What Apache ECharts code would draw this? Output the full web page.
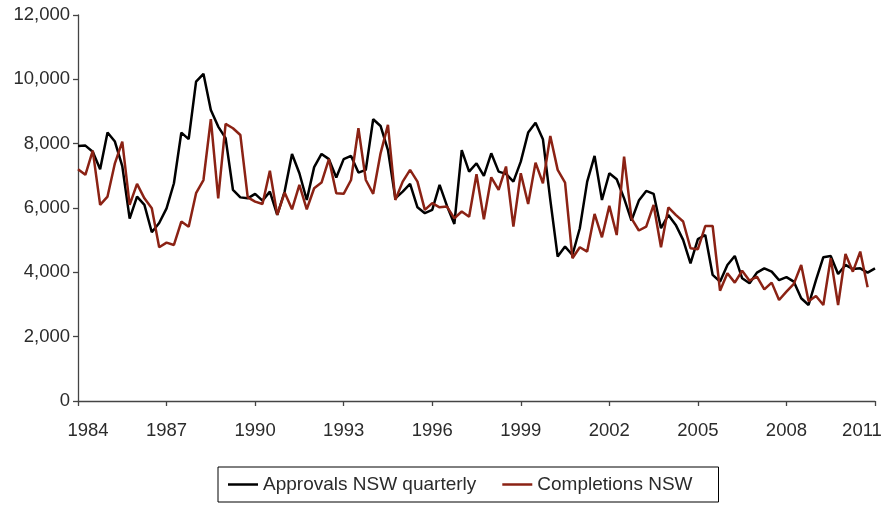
<!DOCTYPE html>
<html>
<head>
<meta charset="utf-8">
<style>
  html, body { margin: 0; padding: 0; background: #fff; }
  #chart { width: 891px; height: 514px; }
</style>
<script src="https://cdn.jsdelivr.net/npm/echarts@6/dist/echarts.min.js"></script>
</head>
<body>
<div id="chart"></div>
<script>
// quarterly series, first point is 1984 Q1
var startYear = 1984
var approvals = [
	7930, 7940, 7750, 7205, 8345, 8065, 7300, 5670, 6355, 6095,
	5245, 5535, 5990, 6770, 8345, 8140, 9930, 10170, 9050, 8530,
	8170, 6560, 6330, 6300, 6440, 6230, 6510, 5785, 6510, 7680,
	7080, 6250, 7270, 7680, 7520, 6950, 7520, 7620, 7100, 7185,
	8760, 8550, 7800, 6300, 6510, 6750, 6020, 5840, 5940, 6720,
	6065, 5505, 7800, 7130, 7390, 7000, 7700, 7130, 7060, 6820,
	7440, 8345, 8650, 8140, 6250, 4490, 4800, 4540, 5370, 6820,
	7620, 6250, 7080, 6895, 6300, 5610, 6230, 6530, 6440, 5370,
	5785, 5475, 5010, 4280, 5030, 5160, 3920, 3710, 4230, 4510,
	3815, 3660, 3990, 4125, 4020, 3760, 3850, 3710, 3195, 2985,
	3760, 4470, 4510, 3950, 4230, 4100, 4125, 3990, 4125
]
var completions = [
	7205, 7030, 7785, 6095, 6355, 7390, 8065, 6095, 6750, 6300,
	5990, 4780, 4925, 4850, 5580, 5420, 6460, 6870, 8760, 6300,
	8615, 8480, 8270, 6330, 6200, 6125, 7160, 5785, 6480, 5960,
	6720, 5960, 6615, 6790, 7520, 6460, 6440, 6870, 8480, 6870,
	6440, 7700, 8585, 6250, 6820, 7185, 6820, 5940, 6150, 6020,
	6045, 5680, 5890, 5730, 7050, 5650, 6955, 6560, 7290, 5420,
	7080, 6125, 7410, 6770, 8240, 7185, 6790, 4440, 4780, 4645,
	5815, 5090, 6065, 5160, 7600, 5680, 5300, 5420, 6095, 4780,
	6020, 5785, 5580, 4750, 4720, 5440, 5440, 3430, 3970, 3680,
	4050, 3740, 3865, 3470, 3680, 3140, 3400, 3640, 4230, 3100,
	3265, 2985, 4440, 2985, 4570, 4020, 4645, 3535
]
var yearTicks = [1984, 1987, 1990, 1993, 1996, 1999, 2002, 2005, 2008, 2011]
var seriesNames = ['Approvals NSW quarterly', 'Completions NSW']

function toPoints(arr) {
	return arr.map(function (v, i) { return [startYear + i / 4, v] })
}

var textColor = '#2b2b2b'
var axisColor = '#444'
var font = 'Liberation Sans'
var fs = 18.5

var myChart = echarts.init(document.getElementById('chart'))
var option = {
	animation: false,
	color: ['#000000', '#8b2214'],
	grid: { left: 78, right: 16, top: 15, bottom: 113 },
	xAxis: {
		type: 'value',
		min: yearTicks[0],
		max: yearTicks[yearTicks.length - 1],
		interval: 3,
		axisLine: { show: true, lineStyle: { color: axisColor, width: 1.3 } },
		axisTick: { show: true, length: 5, lineStyle: { color: axisColor, width: 1.3 } },
		splitLine: { show: false },
		axisLabel: {
			margin: 20,
			color: textColor,
			fontFamily: font,
			fontSize: fs,
			formatter: function (v) {
				if (v === yearTicks[0]) return '{first|' + v + '}'
				if (v === yearTicks[yearTicks.length - 1]) return '{last|' + v + '}'
				return String(v)
			},
			rich: {
				first: { padding: [0, 0, 0, 20], color: textColor, fontFamily: font, fontSize: fs },
				last: { padding: [0, 26, 0, 0], color: textColor, fontFamily: font, fontSize: fs }
			}
		}
	},
	yAxis: {
		type: 'value',
		min: 0,
		max: 12000,
		interval: 2000,
		axisLine: { show: true, lineStyle: { color: axisColor, width: 1.3 } },
		axisTick: { show: true, length: 5, lineStyle: { color: axisColor, width: 1.3 } },
		splitLine: { show: false },
		axisLabel: {
			margin: 8,
			color: textColor,
			fontFamily: font,
			fontSize: fs,
			formatter: function (v) { return v.toLocaleString('en-US') }
		}
	},
	legend: {
		left: 218,
		top: 467,
		data: seriesNames,
		icon: 'rect',
		itemWidth: 30,
		itemHeight: 2.5,
		itemGap: 26,
		padding: [8, 26, 8, 10],
		borderColor: '#000',
		borderWidth: 1,
		textStyle: { color: textColor, fontFamily: font, fontSize: 19 }
	},
	series: [
		{
			name: seriesNames[0],
			type: 'line',
			showSymbol: false,
			symbol: 'none',
			lineStyle: { width: 2.5, color: '#000000' },
			data: toPoints(approvals)
		},
		{
			name: seriesNames[1],
			type: 'line',
			showSymbol: false,
			symbol: 'none',
			lineStyle: { width: 2.5, color: '#8b2214' },
			data: toPoints(completions)
		}
	]
}
myChart.setOption(option)
</script>
</body>
</html>
